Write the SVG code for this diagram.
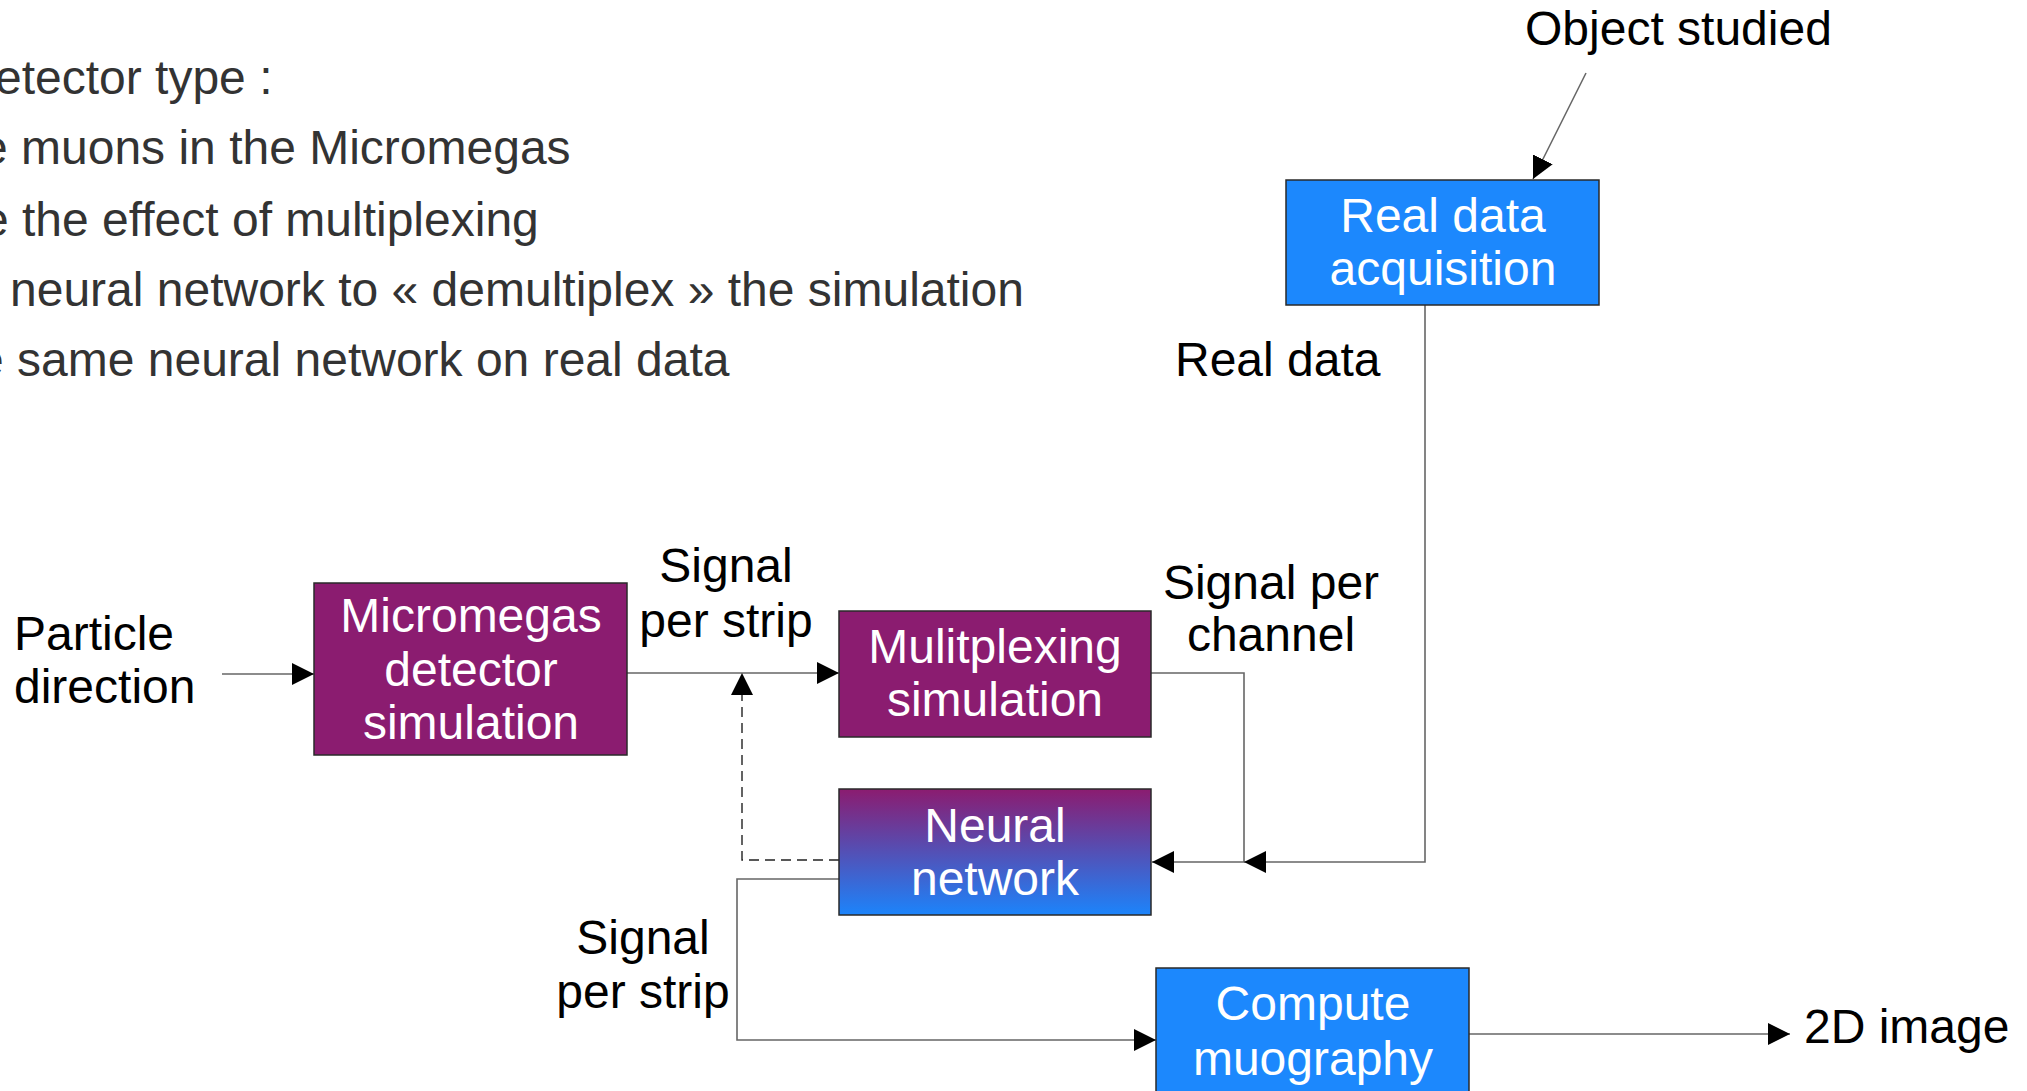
<svg xmlns="http://www.w3.org/2000/svg" width="2027" height="1091" viewBox="0 0 2027 1091">
<style>
text{font-family:"Liberation Sans",Arial,sans-serif;font-size:48px}
.list{fill:#333333}
.lbl{fill:#000000}
.nt{fill:#ffffff;text-anchor:middle}
.mid{text-anchor:middle}
.purple{fill:#8b1c70;stroke:#2a2a2a;stroke-width:1.5}
.blue{fill:#1c88fd;stroke:#2a2a2a;stroke-width:1.5}
.grad{fill:url(#nn);stroke:#2a2a2a;stroke-width:1.5}
.con{fill:none;stroke:#666666;stroke-width:1.6;marker-end:url(#ah)}
.dash{fill:none;stroke:#222222;stroke-width:1.4;stroke-dasharray:10 6;marker-end:url(#ah)}
</style>
<defs>
<marker id="ah" markerUnits="userSpaceOnUse" markerWidth="22" markerHeight="22" refX="22" refY="11" orient="auto">
<path d="M0,0 L22,11 L0,22 Z" fill="#000000"/>
</marker>
<linearGradient id="nn" x1="0" y1="0" x2="0" y2="1">
<stop offset="0" stop-color="#8b1c70"/>
<stop offset="1" stop-color="#1c84fb"/>
</linearGradient>
</defs>
<rect width="2027" height="1091" fill="#ffffff"/>

<g id="steps">
<text class="list" x="-5" y="94">etector type :</text>
<text class="list" x="-19" y="164">e muons in the Micromegas</text>
<text class="list" x="-18" y="236">e the effect of multiplexing</text>
<text class="list" x="10" y="306">neural network to « demultiplex » the simulation</text>
<text class="list" x="-23" y="376">e same neural network on real data</text>
</g>

<g id="connectors">
<line class="con" x1="222" y1="674" x2="314" y2="674"/>
<line class="con" x1="627" y1="673" x2="839" y2="673"/>
<polyline class="con" points="1151,673 1244,673 1244,862 1152,862"/>
<polyline class="con" points="1425,305 1425,862 1244,862"/>
<polyline class="dash" points="839,860 742,860 742,673"/>
<polyline class="con" points="839,879 737,879 737,1040 1156,1040"/>
<line class="con" x1="1469" y1="1034" x2="1790" y2="1034"/>
<line class="con" x1="1586" y1="73" x2="1533" y2="179"/>
</g>

<g id="labels">
<text class="lbl" x="1525" y="45">Object studied</text>
<text class="lbl" x="1175" y="376">Real data</text>
<text class="lbl" x="14" y="650">Particle</text>
<text class="lbl" x="14" y="703">direction</text>
<text class="lbl mid" x="726" y="582">Signal</text>
<text class="lbl mid" x="726" y="637">per strip</text>
<text class="lbl mid" x="1271" y="599">Signal per</text>
<text class="lbl mid" x="1271" y="651">channel</text>
<text class="lbl mid" x="643" y="954">Signal</text>
<text class="lbl mid" x="643" y="1008">per strip</text>
<text class="lbl" x="1804" y="1043">2D image</text>
</g>

<g id="node-acquisition">
<rect class="blue" x="1286" y="180" width="313" height="125"/>
<text class="nt" x="1443" y="232">Real data</text>
<text class="nt" x="1443" y="285">acquisition</text>
</g>

<g id="node-micromegas">
<rect class="purple" x="314" y="583" width="313" height="172"/>
<text class="nt" x="471" y="632">Micromegas</text>
<text class="nt" x="471" y="686">detector</text>
<text class="nt" x="471" y="739">simulation</text>
</g>

<g id="node-multiplexing">
<rect class="purple" x="839" y="611" width="312" height="126"/>
<text class="nt" x="995" y="663">Mulitplexing</text>
<text class="nt" x="995" y="716">simulation</text>
</g>

<g id="node-neural">
<rect class="grad" x="839" y="789" width="312" height="126"/>
<text class="nt" x="995" y="842">Neural</text>
<text class="nt" x="995" y="895">network</text>
</g>

<g id="node-compute">
<rect class="blue" x="1156" y="968" width="313" height="126"/>
<text class="nt" x="1313" y="1020">Compute</text>
<text class="nt" x="1313" y="1075">muography</text>
</g>
</svg>
